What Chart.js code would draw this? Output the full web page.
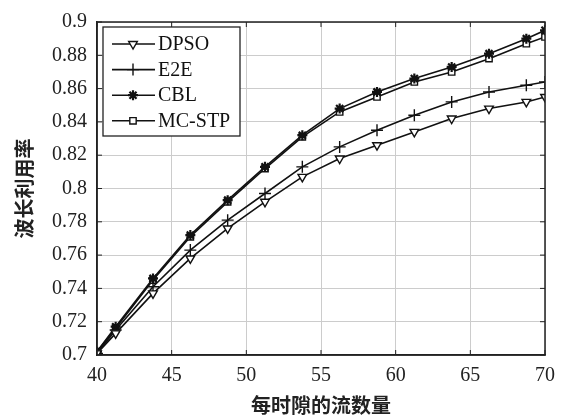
<!DOCTYPE html>
<html>
<head>
<meta charset="utf-8">
<script src="https://cdn.jsdelivr.net/npm/chart.js@4"></script>
<style>
  html, body { margin: 0; padding: 0; background: #fff; }
  #wrap { width: 568px; height: 419px; }
</style>
</head>
<body>
<div id="wrap"><canvas id="myChart"></canvas></div>
<script>
// flows per timeslot (x) and wavelength utilisation per method
const flows = [40, 41.25, 43.75, 46.25, 48.75, 51.25, 53.75, 56.25, 58.75, 61.25, 63.75, 66.25, 68.75, 70];
const dpso  = [0.701, 0.713, 0.737, 0.758, 0.776, 0.792, 0.807, 0.818, 0.826, 0.834, 0.842, 0.848, 0.852, 0.855];
const e2e   = [0.701, 0.715, 0.741, 0.763, 0.781, 0.797, 0.813, 0.825, 0.835, 0.844, 0.852, 0.858, 0.862, 0.864];
const cbl   = [0.702, 0.717, 0.746, 0.772, 0.793, 0.813, 0.832, 0.848, 0.858, 0.866, 0.873, 0.881, 0.890, 0.895];
const mcstp = [0.702, 0.716, 0.745, 0.771, 0.792, 0.812, 0.831, 0.846, 0.855, 0.864, 0.870, 0.878, 0.887, 0.891];

const xTicks = [40, 45, 50, 55, 60, 65, 70];
const yTicks = [0.7, 0.72, 0.74, 0.76, 0.78, 0.8, 0.82, 0.84, 0.86, 0.88, 0.9];

const serif = "'Liberation Serif', 'Times New Roman', serif";
const cjk = "'Noto Sans CJK SC', sans-serif";

function pts(ys) {
  return flows.map((x, i) => ({ x: x, y: ys[i] }));
}

function series(label, ys, style, radius, rotation, bw) {
  return {
    label: label,
    data: pts(ys),
    borderColor: '#111',
    borderWidth: 1.6,
    pointStyle: style,
    pointRadius: radius,
    pointRotation: rotation || 0,
    pointBackgroundColor: '#fff',
    pointBorderColor: '#111',
    pointBorderWidth: bw || 1.4,
    tension: 0
  };
}

// box round the plot with small inward ticks
const frame = {
  id: 'frame',
  afterDraw(chart) {
    const { ctx, chartArea: a, scales } = chart;
    ctx.save();
    ctx.strokeStyle = '#222';
    ctx.lineWidth = 1.5;
    ctx.strokeRect(a.left, a.top, a.right - a.left, a.bottom - a.top);
    ctx.lineWidth = 1;
    const t = 5;
    xTicks.forEach(v => {
      const x = scales.x.getPixelForValue(v);
      ctx.beginPath();
      ctx.moveTo(x, a.bottom); ctx.lineTo(x, a.bottom - t);
      ctx.moveTo(x, a.top); ctx.lineTo(x, a.top + t);
      ctx.stroke();
    });
    yTicks.forEach(v => {
      const y = scales.y.getPixelForValue(v);
      ctx.beginPath();
      ctx.moveTo(a.left, y); ctx.lineTo(a.left + t, y);
      ctx.moveTo(a.right, y); ctx.lineTo(a.right - t, y);
      ctx.stroke();
    });
    ctx.restore();
  }
};

// matlab-like legend box inside the plot
const boxLegend = {
  id: 'boxLegend',
  afterDraw(chart) {
    const { ctx, chartArea: a } = chart;
    const x0 = a.left + 6, y0 = a.top + 5;
    const w = 137, h = 109, step = 25.6;
    ctx.save();
    ctx.fillStyle = '#fff';
    ctx.fillRect(x0, y0, w, h);
    ctx.strokeStyle = '#222';
    ctx.lineWidth = 1.3;
    ctx.strokeRect(x0, y0, w, h);
    chart.data.datasets.forEach((ds, i) => {
      const y = y0 + 17 + i * step;
      ctx.strokeStyle = '#111';
      ctx.lineWidth = 1.6;
      ctx.beginPath();
      ctx.moveTo(x0 + 9, y);
      ctx.lineTo(x0 + 52, y);
      ctx.stroke();
      ctx.fillStyle = '#fff';
      ctx.lineWidth = ds.pointBorderWidth;
      Chart.helpers.drawPoint(ctx, {
        pointStyle: ds.pointStyle,
        radius: ds.pointRadius,
        rotation: ds.pointRotation,
        borderWidth: ds.pointBorderWidth
      }, x0 + 30, y);
      ctx.fillStyle = '#111';
      ctx.font = '20px ' + serif;
      ctx.textBaseline = 'middle';
      ctx.textAlign = 'left';
      ctx.fillText(ds.label, x0 + 55, y + 1);
    });
    ctx.restore();
  }
};

const ctx = document.getElementById('myChart');

new Chart(ctx, {
  type: 'line',
  data: {
    datasets: [
      series('DPSO', dpso, 'triangle', 5, 180),
      series('E2E', e2e, 'cross', 6),
      series('CBL', cbl, 'star', 5, 0, 2.2),
      series('MC-STP', mcstp, 'rect', 4.5)
    ]
  },
  options: {
    responsive: true,
    maintainAspectRatio: false,
    animation: false,
    layout: { padding: { top: 15, right: 23, left: 0, bottom: 0 } },
    plugins: {
      legend: { display: false },
      tooltip: { enabled: false }
    },
    scales: {
      x: {
        type: 'linear',
        min: 40,
        max: 70,
        afterBuildTicks: s => { s.ticks = xTicks.map(v => ({ value: v })); },
        afterFit: s => { s.height = 64; },
        grid: { color: '#cccccc', lineWidth: 1, drawTicks: false },
        border: { color: '#222', width: 1.5 },
        ticks: {
          padding: 9,
          color: '#222',
          font: { family: serif, size: 20 },
          maxRotation: 0
        },
        title: {
          display: true,
          text: '每时隙的流数量',
          color: '#222',
          font: { family: cjk, size: 20, weight: 'bold' },
          padding: { top: 0, bottom: 2 }
        }
      },
      y: {
        min: 0.7,
        max: 0.9,
        afterBuildTicks: s => { s.ticks = yTicks.map(v => ({ value: v })); },
        afterFit: s => { s.width = 97; },
        grid: { color: '#cccccc', lineWidth: 1, drawTicks: false },
        border: { color: '#222', width: 1.5 },
        ticks: {
          padding: 10,
          color: '#222',
          font: { family: serif, size: 20 },
          callback: v => String(Number(v.toFixed(2)))
        },
        title: {
          display: true,
          text: '波长利用率',
          color: '#222',
          font: { family: cjk, size: 20, weight: 'bold' },
          padding: { top: 12, bottom: 0 }
        }
      }
    }
  },
  plugins: [frame, boxLegend]
});
</script>
</body>
</html>
